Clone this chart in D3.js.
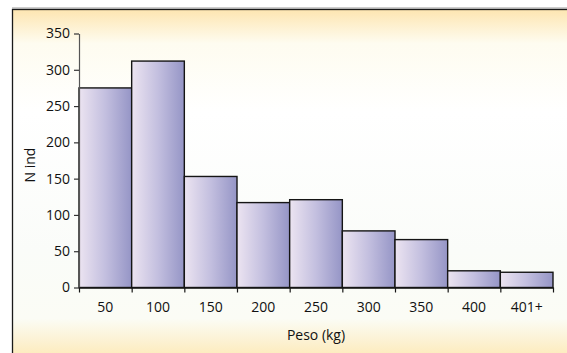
<!DOCTYPE html>
<html>
<head>
<meta charset="utf-8">
<script src="https://cdn.jsdelivr.net/npm/d3@7/dist/d3.min.js"></script>
<style>
  html, body { margin: 0; padding: 0; background: #ffffff; }
  svg { display: block; }
  text { font-family: "Open Sans", sans-serif; fill: #111; }
</style>
</head>
<body>
<svg id="chart" width="567" height="353"></svg>
<script>
// Weight classes (kg) and number of individuals per class
const categories = ["50", "100", "150", "200", "250", "300", "350", "400", "401+"];
const counts = [275, 312, 153, 117, 121, 78, 66, 23, 21];
const yTicks = [0, 50, 100, 150, 200, 250, 300, 350];
const xTitle = "Peso (kg)";
const yTitle = "N ind";

const W = 567, H = 353;
const plot = { left: 79, right: 553, top: 33.5, bottom: 287.5 };
const FS = 14;
const FONT = "Open Sans";

const svg = d3.select("#chart");
const defs = svg.append("defs");

// Frame background: warm tint at top and bottom, white in between
const bg = defs.append("linearGradient")
  .attr("id", "bgGrad").attr("gradientUnits", "userSpaceOnUse")
  .attr("x1", 0).attr("y1", 9).attr("x2", 0).attr("y2", H);
bg.append("stop").attr("offset", "0%").attr("stop-color", "#fde5b0");
bg.append("stop").attr("offset", "10%").attr("stop-color", "#fefcf0");
bg.append("stop").attr("offset", "30%").attr("stop-color", "#ffffff");
bg.append("stop").attr("offset", "70%").attr("stop-color", "#fafcf9");
bg.append("stop").attr("offset", "90%").attr("stop-color", "#fbfcf5");
bg.append("stop").attr("offset", "100%").attr("stop-color", "#fdecc0");

// Bar fill: light lavender to slate-violet, left to right
const barGrad = defs.append("linearGradient")
  .attr("id", "barGrad").attr("x1", 0).attr("y1", 0).attr("x2", 1).attr("y2", 0);
barGrad.append("stop").attr("offset", "0%").attr("stop-color", "#ece4f1");
barGrad.append("stop").attr("offset", "50%").attr("stop-color", "#c3bfdf");
barGrad.append("stop").attr("offset", "100%").attr("stop-color", "#9595c6");

// Outer frame (runs past the right and bottom edges)
svg.append("line").attr("x1", 12).attr("x2", W).attr("y1", 8).attr("y2", 8)
  .attr("stroke", "#9a9a9a").attr("stroke-width", 1);
svg.append("rect")
  .attr("x", 12.5).attr("y", 9.5).attr("width", W + 20).attr("height", H + 20)
  .attr("fill", "url(#bgGrad)").attr("stroke", "#1a1a1a").attr("stroke-width", 1.3);

// Scales
const x = d3.scaleBand().domain(categories).range([plot.left, plot.right]).padding(0);
const y = d3.scaleLinear().domain([0, 350]).range([plot.bottom, plot.top]);

// Bars
svg.append("g").selectAll("rect").data(counts).join("rect")
  .attr("x", (d, i) => x(categories[i]))
  .attr("y", d => y(d))
  .attr("width", x.bandwidth())
  .attr("height", d => y(0) - y(d))
  .attr("fill", "url(#barGrad)")
  .attr("stroke", "#151515")
  .attr("stroke-width", 1.4);

// Shared text styling for axis labels
function styleText(sel) {
  sel.style("font-size", FS + "px").style("font-family", FONT).style("fill", "#111");
}

// Y axis
const yAxis = svg.append("g")
  .attr("transform", `translate(${plot.left},0)`)
  .call(d3.axisLeft(y).tickValues(yTicks).tickSize(5).tickSizeOuter(0).tickPadding(4));
yAxis.select(".domain").attr("stroke", "#555").attr("stroke-width", 1.2);
yAxis.selectAll(".tick line").attr("stroke", "#333").attr("stroke-width", 1.2);
yAxis.selectAll(".tick text").call(styleText);

// X axis: boundary ticks between classes
const xEdge = d3.scaleLinear().domain([0, categories.length]).range([plot.left, plot.right]);
const xTicksAxis = svg.append("g")
  .attr("transform", `translate(0,${plot.bottom})`)
  .call(d3.axisBottom(xEdge).ticks(categories.length).tickFormat("").tickSize(5).tickSizeOuter(0));
xTicksAxis.select(".domain").attr("stroke", "#151515").attr("stroke-width", 1.4);
xTicksAxis.selectAll(".tick line").attr("stroke", "#151515").attr("stroke-width", 1.2);

// X axis: class labels centred under each bar
const xLabels = svg.append("g")
  .attr("transform", `translate(0,${plot.bottom})`)
  .call(d3.axisBottom(x).tickSize(0).tickPadding(15));
xLabels.select(".domain").remove();
xLabels.selectAll(".tick text").call(styleText);

// Axis titles
svg.append("text")
  .attr("x", (plot.left + plot.right) / 2).attr("y", 340)
  .attr("text-anchor", "middle")
  .call(styleText)
  .text(xTitle);

svg.append("text")
  .attr("transform", `translate(35,165) rotate(-90)`)
  .attr("text-anchor", "middle")
  .call(styleText)
  .text(yTitle);
</script>
</body>
</html>
